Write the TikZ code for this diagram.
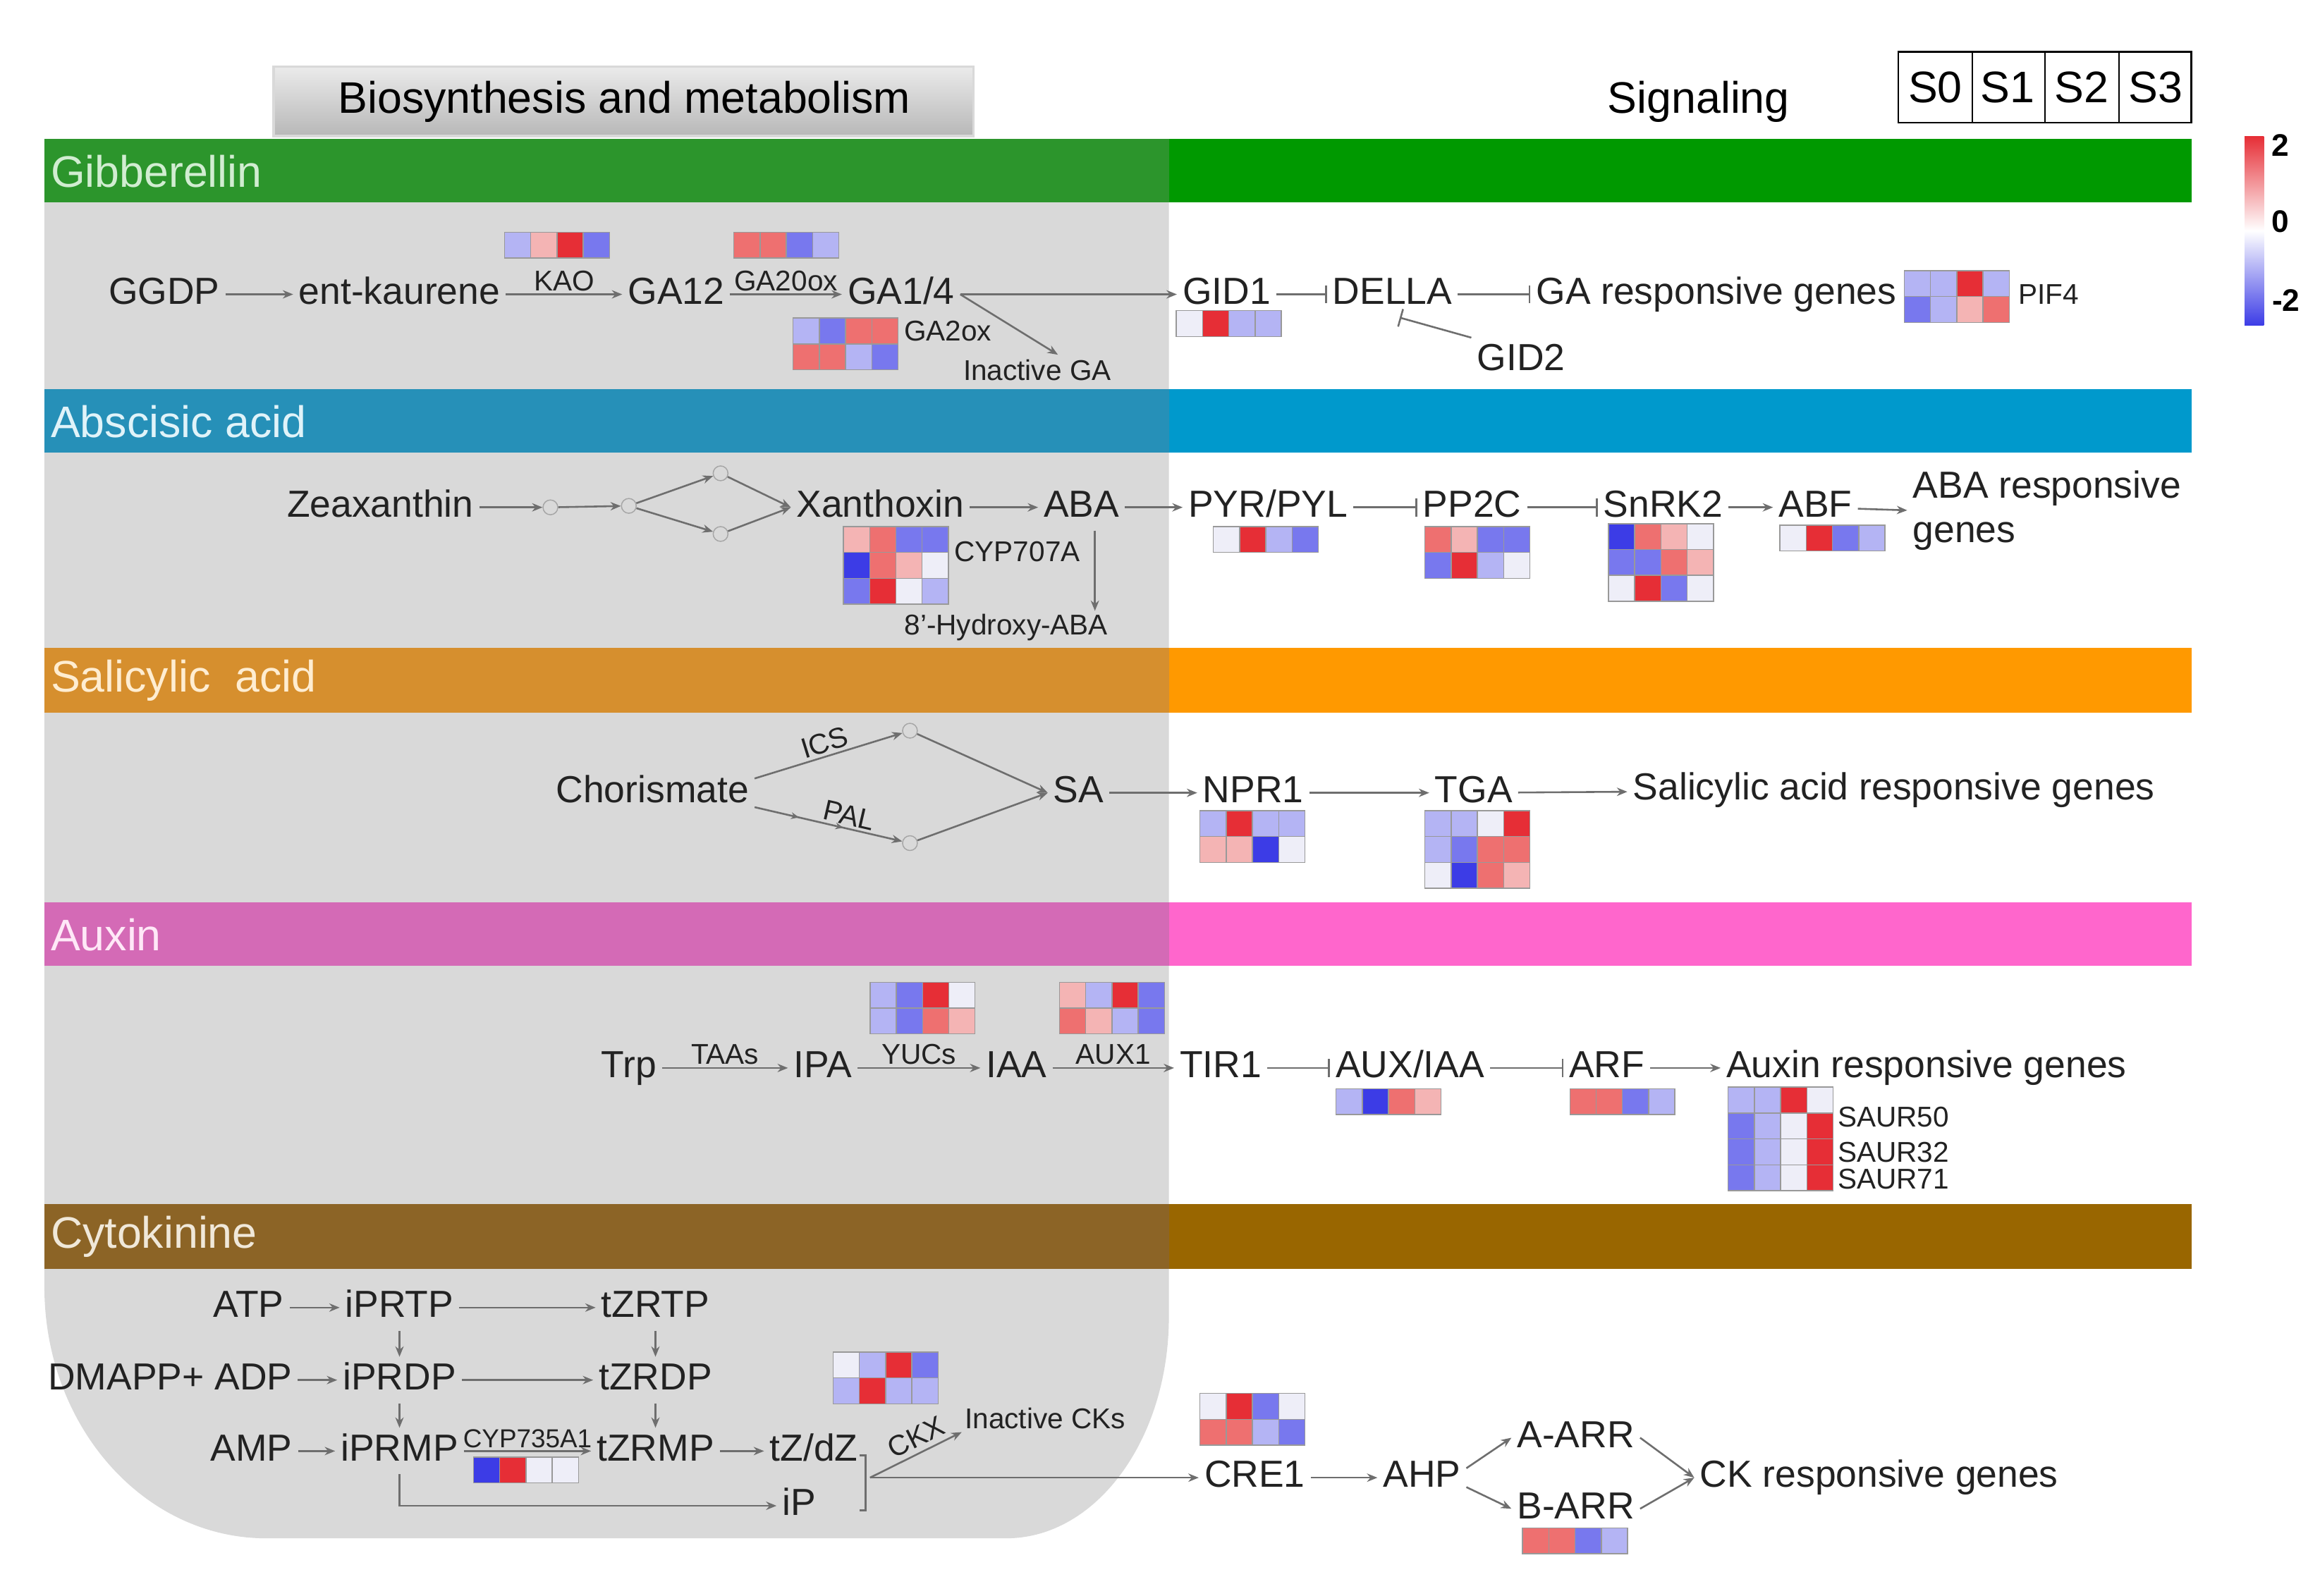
\documentclass[tikz,border=0pt]{standalone}
\usepackage{fontspec}
\setmainfont{Liberation Sans}
\usetikzlibrary{arrows.meta,decorations.markings,calc}

\definecolor{txt}{HTML}{222222}
\definecolor{lncol}{HTML}{6E6E6E}
\definecolor{panel}{HTML}{D9D9D9}
\definecolor{gib}{HTML}{009900}
\definecolor{gibL}{HTML}{2C952C}
\definecolor{abac}{HTML}{0099CC}
\definecolor{abacL}{HTML}{2690B8}
\definecolor{sali}{HTML}{FF9900}
\definecolor{saliL}{HTML}{D68F2E}
\definecolor{auxn}{HTML}{FF66CC}
\definecolor{auxnL}{HTML}{D46AB6}
\definecolor{ckin}{HTML}{996600}
\definecolor{ckinL}{HTML}{8C6426}
\definecolor{hB2}{HTML}{3C3CE6}
\definecolor{hB1}{HTML}{7878EE}
\definecolor{hB0}{HTML}{B4B4F4}
\definecolor{hW}{HTML}{EEEEF8}
\definecolor{hR0}{HTML}{F4B4B4}
\definecolor{hR1}{HTML}{EE7070}
\definecolor{hR2}{HTML}{E62E36}

\newcommand{\heatrow}[3]{%
  \foreach \hc [count=\hi from 0] in {#3}
    {\filldraw[cell,fill=\hc] ({#1+\hi*17.75},#2) rectangle ++(17.75,17.5);}}

\begin{document}
\begin{tikzpicture}[x=0.02cm,y=-0.02cm,
  lbl/.style={font=\fontsize{14.5}{17}\selectfont,text=txt,inner sep=2pt,text height=10.5pt,text depth=3pt},
  lbltwo/.style={font=\fontsize{14.5}{17}\selectfont,text=txt,inner sep=2pt,align=left},
  small/.style={font=\fontsize{11}{13}\selectfont,text=txt,inner sep=1pt},
  tiny/.style={font=\fontsize{10}{12}\selectfont,text=txt,inner sep=1pt},
  hdr/.style={font=\fontsize{17}{20}\selectfont,text=black,inner sep=0pt},
  band/.style={anchor=west,font=\fontsize{17}{20}\selectfont,inner sep=0pt},
  circ/.style={circle,draw=black!35,fill=none,minimum size=0.2cm,inner sep=0pt},
  cell/.style={draw=black!40,line width=0.4pt},
  act/.style={draw=lncol,line width=0.7pt,-{Stealth[length=4pt,width=3.2pt]}},
  inh/.style={draw=lncol,line width=0.7pt,-{Bar[width=7pt]}},
  ln/.style={draw=lncol,line width=0.7pt},
  midarr/.style={postaction={decorate},decoration={markings,
    mark=at position 0.3 with {\arrow{Stealth[length=3pt,width=2.6pt]}},
    mark=at position 0.6 with {\arrow{Stealth[length=3pt,width=2.6pt]}}}}]
\useasboundingbox (0,0) rectangle (1568,1079);

\fill[panel] (30,94) -- (790,94) -- (790,890) .. controls (790,973) and (741,1040) .. (680,1040)
  -- (180,1040) .. controls (97,1040) and (30,964) .. (30,870) -- cycle;

\shade[top color=black!8,bottom color=black!28,draw=black!15,line width=1pt] (185,45) rectangle (658,92);
\node[hdr] (biotab) at (422,69) {Biosynthesis and metabolism};
\node[hdr] (sigtab) at (1148,69) {Signaling};
\draw[line width=0.6pt] (1283,35) rectangle (1481,83);
\foreach \x in {1333,1382,1432} \draw[line width=0.6pt] (\x,35) -- (\x,83);
\foreach \s [count=\i from 0] in {1308,1357,1407,1457} \node[hdr] (s\i) at (\s,59) {S\i};

\shade[top color=hR2,bottom color=hB2,middle color=white] (1517,92) rectangle (1530,220);
\node[font=\fontsize{12}{14}\selectfont\bfseries,inner sep=0pt] (cbtop) at (1541,98) {2};
\node[font=\fontsize{12}{14}\selectfont\bfseries,inner sep=0pt] (cbmid) at (1541,150) {0};
\node[font=\fontsize{12}{14}\selectfont\bfseries,inner sep=0pt] (cbbot) at (1545,203) {-2};

\fill[gibL] (30,94) rectangle (790,137);
\fill[gib] (790,94) rectangle (1481,137);
\node[band,text=gib!18!white] (gibt) at (34,116) {Gibberellin};
\fill[abacL] (30,263) rectangle (790,306);
\fill[abac] (790,263) rectangle (1481,306);
\node[band,text=abac!12!white] (abat) at (34,285) {Abscisic acid};
\fill[saliL] (30,438) rectangle (790,482);
\fill[sali] (790,438) rectangle (1481,482);
\node[band,text=sali!18!white] (salt) at (34,460) {Salicylic\ \ acid};
\fill[auxnL] (30,610) rectangle (790,653);
\fill[auxn] (790,610) rectangle (1481,653);
\node[band,text=auxn!15!white] (auxt) at (34,632) {Auxin};
\fill[ckinL] (30,814) rectangle (790,858);
\fill[ckin] (790,814) rectangle (1481,858);
\node[band,text=ckin!15!white] (ckt) at (34,836) {Cytokinine};

% heatmaps
\heatrow{341}{157}{hB0,hR0,hR2,hB1}
\heatrow{496}{157}{hR1,hR1,hB1,hB0}
\heatrow{536}{215}{hB0,hB1,hR1,hR1}
\heatrow{536}{232.5}{hR1,hR1,hB0,hB1}
\heatrow{795}{210}{hW,hR2,hB0,hB0}
\heatrow{1287}{183}{hB0,hB0,hR2,hB0}
\heatrow{1287}{200.5}{hB1,hB0,hR0,hR1}
\heatrow{570}{356}{hR0,hR1,hB1,hB1}
\heatrow{570}{373.5}{hB2,hR1,hR0,hW}
\heatrow{570}{391}{hB1,hR2,hW,hB0}
\heatrow{820}{356}{hW,hR2,hB0,hB1}
\heatrow{963}{356}{hR1,hR0,hB1,hB1}
\heatrow{963}{373.5}{hB1,hR2,hB0,hW}
\heatrow{1087}{354}{hB2,hR1,hR0,hW}
\heatrow{1087}{371.5}{hB1,hB1,hR1,hR0}
\heatrow{1087}{389}{hW,hR2,hB1,hW}
\heatrow{1203}{355}{hW,hR2,hB1,hB0}
\heatrow{811}{548}{hB0,hR2,hB0,hB0}
\heatrow{811}{565.5}{hR0,hR0,hB2,hW}
\heatrow{963}{548}{hB0,hB0,hW,hR2}
\heatrow{963}{565.5}{hB0,hB1,hR1,hR1}
\heatrow{963}{583}{hW,hB2,hR1,hR0}
\heatrow{588}{664}{hB0,hB1,hR2,hW}
\heatrow{588}{681.5}{hB0,hB1,hR1,hR0}
\heatrow{716}{664}{hR0,hB0,hR2,hB1}
\heatrow{716}{681.5}{hR1,hR0,hB0,hB1}
\heatrow{903}{736}{hB0,hB2,hR1,hR0}
\heatrow{1061}{736}{hR1,hR1,hB1,hB0}
\heatrow{1168}{735}{hB0,hB0,hR2,hW}
\heatrow{1168}{752.5}{hB1,hB0,hW,hR2}
\heatrow{1168}{770}{hB1,hB0,hW,hR2}
\heatrow{1168}{787.5}{hB1,hB0,hW,hR2}
\heatrow{563}{914}{hW,hB0,hR2,hB1}
\heatrow{563}{931.5}{hB0,hR2,hB0,hB0}
\heatrow{320}{985}{hB2,hR2,hW,hW}
\heatrow{811}{942}{hW,hR2,hB1,hW}
\heatrow{811}{959.5}{hR1,hR1,hB0,hB1}
\heatrow{1029}{1033}{hR1,hR1,hB1,hB0}

% Gibberellin
\node[lbl] (ggdp) at (111,199) {GGDP};
\node[lbl] (entk) at (270,199) {ent-kaurene};
\node[lbl] (ga12) at (457,199) {GA12};
\node[lbl] (ga14) at (609,199) {GA1/4};
\node[small,anchor=west] (ga2ox) at (609,224) {GA2ox};
\node[small] (inactga) at (701,250) {Inactive GA};
\node[lbl] (gid1) at (829,199) {GID1};
\node[lbl] (della) at (941,199) {DELLA};
\node[lbl] (garesp) at (1160,199) {GA responsive genes};
\node[lbl] (gid2) at (1028,244) {GID2};
\node[small,anchor=west] (pif4) at (1362,199) {PIF4};
\draw[act] (ggdp) -- (entk);
\draw[act] (entk) -- node[small,above] (kao) {KAO} (ga12);
\draw[act] (ga12) -- node[small,above] (ga20ox) {GA20ox} (ga14);
\draw[act] (ga14) -- (gid1);
\draw[act] (ga14.east) -- ($(inactga.north)+(14,-1)$);
\draw[inh] (gid1) -- (della);
\draw[inh] (della) -- (garesp);
\draw[inh] (gid2.north west) -- ($(della.south)+(5,0)$);

% Abscisic acid
\node[lbl] (zea) at (257,343) {Zeaxanthin};
\node[circ] (c1) at (372,343) {};
\node[circ] (c2) at (425,342) {};
\node[circ] (c3) at (487,320) {};
\node[circ] (c4) at (487,361) {};
\node[lbl] (xanth) at (595,343) {Xanthoxin};
\node[lbl] (aba) at (731,343) {ABA};
\node[small,anchor=west] (cyp707) at (643,373) {CYP707A};
\node[small] (hyd) at (680,424) {8'-Hydroxy-ABA};
\coordinate (hydin) at (740,413);
\node[lbl] (pyr) at (857,343) {PYR/PYL};
\node[lbl] (pp2c) at (995,343) {PP2C};
\node[lbl] (snrk) at (1124,343) {SnRK2};
\node[lbl] (abf) at (1227,343) {ABF};
\node[lbltwo,anchor=west] (abaresp) at (1289,345) {ABA responsive\\genes};
\draw[act] (zea) -- (c1);
\draw[act] (c1) -- (c2);
\draw[act] (c2) -- (c3);
\draw[act] (c2) -- (c4);
\draw[act] (c3) -- (xanth.west);
\draw[act] (c4) -- (xanth.west);
\draw[act] (xanth) -- (aba);
\draw[act] (aba.south -| hydin) -- (hydin);
\draw[act] (aba) -- (pyr);
\draw[inh] (pyr) -- (pp2c);
\draw[inh] (pp2c) -- (snrk);
\draw[act] (snrk) -- (abf);
\draw[act] (abf) -- (abaresp.west);

% Salicylic acid
\node[lbl] (chor) at (441,536) {Chorismate};
\node[circ] (c5) at (615,494) {};
\node[circ] (c6) at (615,570) {};
\node[lbl] (sa) at (729,536) {SA};
\node[lbl] (npr1) at (847,536) {NPR1};
\node[lbl] (tga) at (996,536) {TGA};
\node[lbl] (saresp) at (1280,534) {Salicylic acid responsive genes};
\draw[act] (chor.8) -- node[small,sloped,above,pos=0.5] (ics) {ICS} (c5);
\draw[act,midarr] (chor.-8) -- node[small,sloped,above,pos=0.62] (pal) {PAL} (c6);
\draw[act] (c5) -- (sa.west);
\draw[act] (c6) -- (sa.west);
\draw[act] (sa) -- (npr1);
\draw[act] (npr1) -- (tga);
\draw[act] (tga) -- (saresp);

% Auxin
\node[lbl] (trp) at (425,722) {Trp};
\node[lbl] (ipa) at (556,722) {IPA};
\node[lbl] (iaa) at (687,722) {IAA};
\node[lbl] (tir1) at (825,722) {TIR1};
\node[lbl] (auxiaa) at (953,722) {AUX/IAA};
\node[lbl] (arf) at (1086,722) {ARF};
\node[lbl] (auxresp) at (1302,722) {Auxin responsive genes};
\node[small,anchor=west] (saur50) at (1240,755) {SAUR50};
\node[small,anchor=west] (saur32) at (1240,779) {SAUR32};
\node[small,anchor=west] (saur71) at (1240,797) {SAUR71};
\draw[act] (trp) -- node[small,above] (taas) {TAAs} (ipa);
\draw[act] (ipa) -- node[small,above] (yucs) {YUCs} (iaa);
\draw[act] (iaa) -- node[small,above] (aux1) {AUX1} (tir1);
\draw[inh] (tir1) -- (auxiaa);
\draw[inh] (auxiaa) -- (arf);
\draw[act] (arf) -- (auxresp);

% Cytokinine
\node[lbl] (atp) at (168,884) {ATP};
\node[lbl] (iprtp) at (270,884) {iPRTP};
\node[lbl] (tzrtp) at (443,884) {tZRTP};
\node[lbl] (dmapp) at (115,933) {DMAPP+ ADP};
\node[lbl] (iprdp) at (270,933) {iPRDP};
\node[lbl] (tzrdp) at (443,933) {tZRDP};
\node[lbl] (amp) at (170,981) {AMP};
\node[lbl] (iprmp) at (270,981) {iPRMP};
\node[lbl] (tzrmp) at (443,981) {tZRMP};
\node[lbl] (tzdz) at (550,981) {tZ/dZ};
\node[lbl] (ip) at (540,1018) {iP};
\node[small,anchor=west] (inactck) at (650,959) {Inactive CKs};
\coordinate (brt) at (585,984);
\coordinate (brb) at (585,1021);
\coordinate (brm) at (588,999);
\node[lbl] (cre1) at (848,999) {CRE1};
\node[lbl] (ahp) at (961,999) {AHP};
\node[lbl] (aarr) at (1065,972) {A-ARR};
\node[lbl] (barr) at (1065,1020) {B-ARR};
\node[lbl] (ckresp) at (1270,999) {CK responsive genes};
\draw[act] (atp) -- (iprtp);
\draw[act] (iprtp) -- (tzrtp);
\draw[act] (dmapp) -- (iprdp);
\draw[act] (iprdp) -- (tzrdp);
\draw[act] (amp) -- (iprmp);
\draw[act] (iprmp) -- node[tiny,above] (cyp735) {CYP735A1} (tzrmp);
\draw[act] (tzrmp) -- (tzdz);
\draw[act] (iprtp) -- (iprdp);
\draw[act] (iprdp) -- (iprmp);
\draw[act] (tzrtp) -- (tzrdp);
\draw[act] (tzrdp) -- (tzrmp);
\draw[act] (iprmp.south) |- (ip.west);
\draw[ln] ($(brt)+(-4,0)$) -- (brt) -- (brb) -- ($(brb)+(-4,0)$);
\draw[act] (brm) -- node[small,sloped,above=1pt,pos=0.58] (ckx) {CKX} (inactck.south west);
\draw[act] (brm) -- (cre1);
\draw[act] (cre1) -- (ahp);
\draw[act] (ahp.12) -- (aarr.west);
\draw[act] (ahp.-12) -- (barr.west);
\draw[act] (aarr.east) -- (ckresp.west);
\draw[act] (barr.east) -- (ckresp.west);
\end{tikzpicture}
\end{document}
